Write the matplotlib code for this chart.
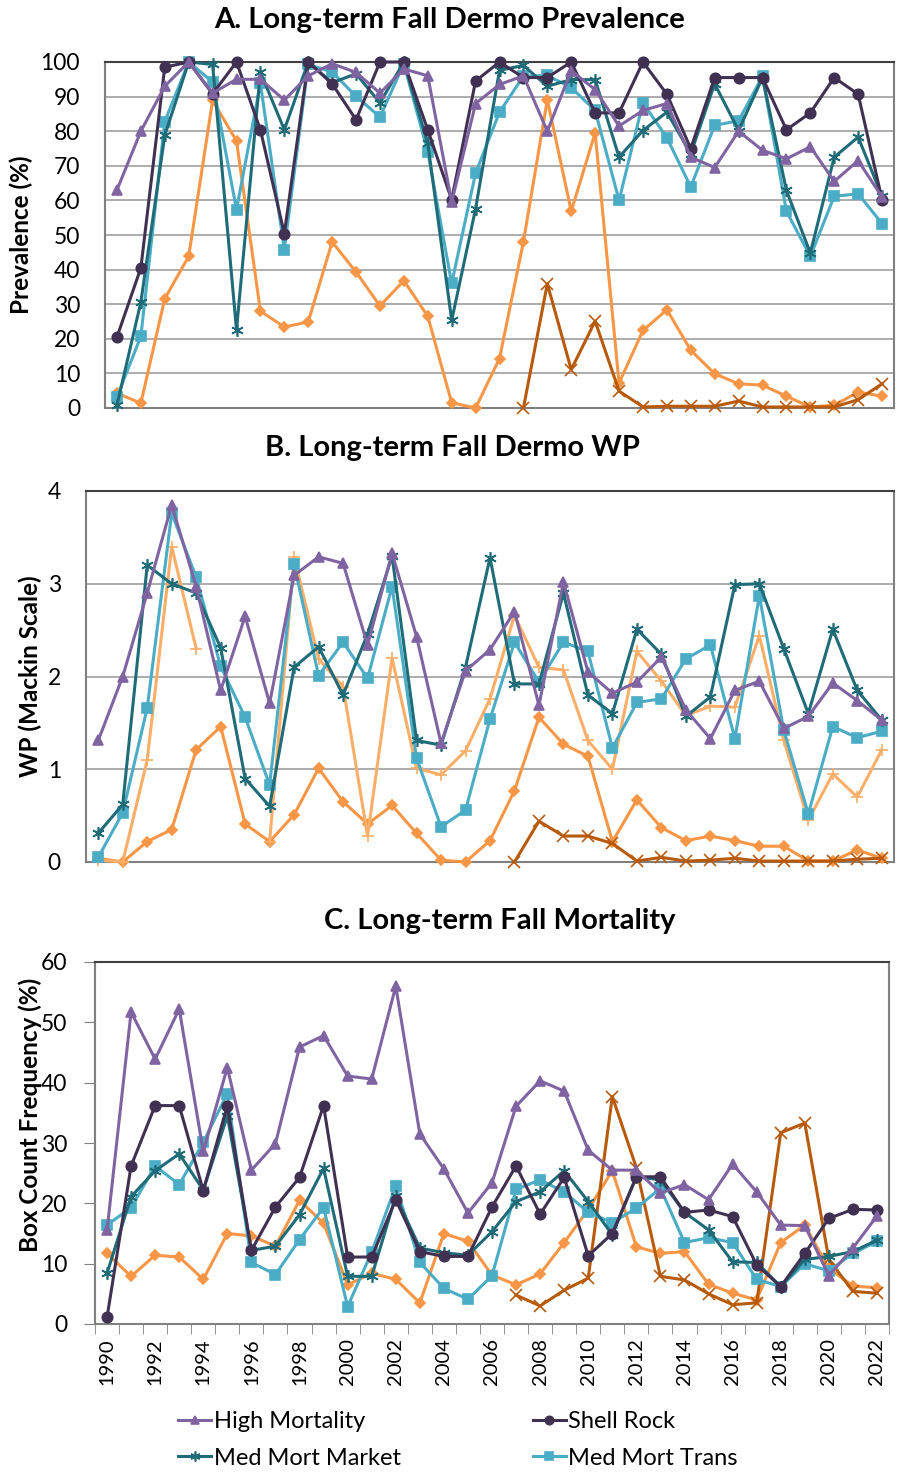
import numpy as np
import matplotlib
matplotlib.use("Agg")
import matplotlib.pyplot as plt

nan = np.nan

# years on the category axis
years = list(range(1990, 2023))
year_labels = [str(y) if y % 2 == 0 else "" for y in years]

# A. fall dermo prevalence (%)
hm_prev = [63, 80, 93, 100, 91, 95, 95, 89, 96, 99.5, 97, 91, 98, 96, 59.5, 88, 93.5, 96, 80, 97.5, 92,
           81.5, 86, 88, 72.5, 69.5, 80, 74.5, 72, 75.5, 65.5, 71.5, 61]
sr_prev = [20.5, 40.5, 98.5, 100, 90.8, 100, 80.4, 50.4, 100, 93.7, 83.3, 100, 100, 80.4, 60.2, 94.5, 100,
           95.5, 95.5, 100, 85.3, 85.3, 100, 90.7, 75, 95.5, 95.5, 95.5, 80.4, 85.3, 95.5, 90.7, 60.2]
mmm_prev = [0.8, 30.6, 78.8, 100, 99.3, 22.6, 97.1, 80.4, 100, 94, 96.6, 88.2, 100, 76.5, 25.3, 57.6, 97.6,
            99, 93, 94.9, 94.9, 72.5, 80.2, 85.5, 73.5, 93.7, 80.2, 95.5, 62.9, 44.8, 72.5, 78.3, 61.2]
mmt_prev = [3.2, 20.7, 82.8, 100, 94.2, 57.3, 93.8, 45.8, 99.3, 97.1, 90.1, 84.1, 99.5, 74, 36, 67.9, 85.5,
            95.9, 96.1, 92.6, 86, 60, 88.2, 78.1, 63.9, 81.7, 83, 95.9, 56.9, 43.8, 61.2, 61.9, 53.3]
lm_prev = [4.3, 1.4, 31.6, 43.8, 88.9, 77.2, 28, 23.4, 24.9, 48, 39.3, 29.5, 36.8, 26.5, 1.5, 0, 14.3,
           48, 89.1, 56.9, 79.5, 7.2, 22.4, 28.4, 16.7, 9.9, 7, 6.6, 3.4, 0.3, 0.8, 4.6, 3.4]
dk_prev = [nan] * 17 + [0, 35.9, 11.1, 25.1, 4.9, 0.3, 0.5, 0.5, 0.5, 2, 0.3, 0.3, 0.3, 0.3, 2.4, 7]

# B. fall dermo weighted prevalence (Mackin scale)
hm_wp = [1.31, 2.0, 2.9, 3.85, 2.97, 1.85, 2.65, 1.71, 3.09, 3.29, 3.22, 2.34, 3.33, 2.43, 1.28, 2.06, 2.29,
         2.70, 1.69, 3.02, 2.05, 1.82, 1.94, 2.21, 1.64, 1.33, 1.85, 1.95, 1.44, 1.57, 1.93, 1.74, 1.53]
mmm_wp = [0.31, 0.62, 3.2, 3.0, 2.9, 2.31, 0.9, 0.6, 2.1, 2.32, 1.8, 2.46, 3.3, 1.31, 1.26, 2.1, 3.28,
          1.92, 1.92, 2.9, 1.8, 1.6, 2.51, 2.24, 1.57, 1.78, 2.99, 3.0, 2.3, 1.6, 2.51, 1.85, 1.53]
mmt_wp = [0.05, 0.53, 1.66, 3.76, 3.07, 2.11, 1.56, 0.83, 3.21, 2.01, 2.37, 1.98, 2.97, 1.12, 0.38, 0.56, 1.54,
          2.37, 1.94, 2.37, 2.27, 1.23, 1.72, 1.76, 2.19, 2.34, 1.33, 2.87, 1.42, 0.52, 1.46, 1.34, 1.41]
lm_wp = [0.04, 0, 0.22, 0.35, 1.21, 1.46, 0.41, 0.22, 0.51, 1.01, 0.65, 0.41, 0.61, 0.31, 0.02, 0, 0.23,
         0.77, 1.56, 1.27, 1.14, 0.22, 0.67, 0.37, 0.23, 0.28, 0.23, 0.17, 0.17, 0.01, 0.01, 0.13, 0.04]
lt_wp = [0.02, 0, 1.1, 3.4, 2.3, nan, nan, 0.22, 3.29, 2.19, 1.89, 0.28, 2.2, 1.01, 0.94, 1.2, 1.76,
         2.66, 2.1, 2.07, 1.31, 1.0, 2.27, 1.95, 1.58, 1.68, 1.67, 2.44, 1.31, 0.45, 0.95, 0.7, 1.21]
dk_wp = [nan] * 17 + [0, 0.44, 0.28, 0.28, 0.2, 0.01, 0.05, 0.01, 0.02, 0.04, 0.01, 0.01, 0.01, 0.01, 0.03, 0.04]

# C. fall box count mortality (%)
hm_mort = [15.5, 51.7, 43.9, 52.2, 28.6, 42.5, 25.5, 29.9, 45.9, 47.8, 41.1, 40.6, 56, 31.5, 25.7, 18.4, 23.4,
           36.1, 40.3, 38.6, 28.8, 25.5, 25.5, 21.7, 23.1, 20.6, 26.5, 21.9, 16.4, 16.3, 8, 12.6, 17.9]
sr_mort = [1.1, 26.2, 36.2, 36.2, 22.1, 36.2, 12.2, 19.4, 24.3, 36.2, 11.1, 11.1, 20.6, 12, 11.2, 11.2, 19.4,
           26.2, 18.2, 24.3, 11.3, 15, 24.4, 24.4, 18.5, 18.9, 17.8, 9.8, 6.2, 11.7, 17.5, 19, 18.9]
mmm_mort = [8.4, 21.1, 25.4, 28.2, 22.2, 34.5, 12.2, 12.9, 18.1, 25.8, 7.9, 7.9, 21.2, 12.6, 11.8, 11.4, 15.3,
            20.3, 21.9, 25.4, 20.3, 14.8, 24.4, 23.9, 18.5, 15.6, 10.3, 10.2, 6.2, 10.7, 11.2, 12, 13.9]
mmt_mort = [16.4, 19.3, 26.2, 23.1, 30.1, 38.2, 10.2, 8.2, 14, 19.3, 2.9, 11.9, 22.9, 10.2, 5.9, 4.1, 8,
            22.3, 23.9, 21.9, 18.5, 16.8, 19.2, 22.5, 13.5, 14.3, 13.5, 7.4, 6.2, 10, 8.8, 11.7, 13.7]
lm_mort = [11.7, 7.9, 11.4, 11.1, 7.4, 15, 14.6, 12.9, 20.5, 16.7, 6.5, 8.4, 7.4, 3.5, 15, 13.7, 8.1,
           6.5, 8.3, 13.5, 19, 25.4, 12.8, 11.7, 12, 6.6, 5.1, 4, 13.5, 16.4, 9.2, 6.3, 6]
dk_mort = [nan] * 17 + [4.8, 3, 5.6, 7.6, 37.7, 25.9, 7.9, 7.3, 5, 3.2, 3.5, 31.7, 33.3, 10.7, 5.4, 5.1]

plt.rcParams['font.family'] = ['Lato', 'DejaVu Sans']

# series styles: (label, colour, marker, marker size)
styles = {
    "hm": ("High Mortality", "#8064A2", "^", 7.5),
    "sr": ("Shell Rock", "#403152", "o", 7.5),
    "mmm": ("Med Mort Market", "#1F6B78", (6, 2, 0), 9),
    "mmt": ("Med Mort Trans", "#4BACC6", "s", 7.5),
    "lm": ("Low Mortality", "#F79646", "D", 5.5),
    "lt": ("Low Mort Trans", "#FAAE68", "+", 9),
    "dk": ("Low Mort Market", "#B85A0C", "x", 8),
}

x = np.arange(len(years))


def draw(ax, key, vals):
    label, col, mk, ms = styles[key]
    line, = ax.plot(x, vals, color=col, lw=2.2, marker=mk, ms=ms, mec=col, mfc=col, mew=1.2,
                    label=label, clip_on=False, zorder=3)
    return line


fig = plt.figure(figsize=(8.99, 14.73), dpi=100)

TICK = 16.5
YLAB = 17.5
TITLE = 21

# ---- panel A
axA = fig.add_axes([105 / 899, 1 - 408 / 1473, 789 / 899, 346 / 1473])
for k, v in [("lm", lm_prev), ("dk", dk_prev), ("mmt", mmt_prev), ("mmm", mmm_prev), ("sr", sr_prev), ("hm", hm_prev)]:
    draw(axA, k, v)
axA.set_ylim(0, 100)
axA.set_yticks(range(0, 101, 10))
axA.set_xticks([])
axA.yaxis.grid(True, color="#A6A6A6", lw=1.3)
axA.set_axisbelow(True)
axA.set_ylabel("Prevalence (%)", fontsize=YLAB, fontweight="bold")
axA.yaxis.set_label_coords(-0.0913, 0.5)
axA.tick_params(axis="y", length=0, labelsize=TICK, pad=18)

# ---- panel B
axB = fig.add_axes([86 / 899, 1 - 862 / 1473, 808 / 899, 371 / 1473])
for k, v in [("lm", lm_wp), ("lt", lt_wp), ("dk", dk_wp), ("mmt", mmt_wp), ("mmm", mmm_wp), ("hm", hm_wp)]:
    draw(axB, k, v)
axB.set_ylim(0, 4)
axB.set_yticks(range(0, 5))
axB.set_xticks([])
axB.yaxis.grid(True, color="#A6A6A6", lw=1.3)
axB.set_axisbelow(True)
axB.set_ylabel("WP (Mackin Scale)", fontsize=YLAB, fontweight="bold")
axB.yaxis.set_label_coords(-0.0545, 0.5)
axB.tick_params(axis="y", length=0, labelsize=TICK, pad=18)

# ---- panel C
axC = fig.add_axes([95 / 899, 1 - 1324 / 1473, 794 / 899, 362 / 1473])
for k, v in [("lm", lm_mort), ("dk", dk_mort), ("mmt", mmt_mort), ("mmm", mmm_mort), ("sr", sr_mort), ("hm", hm_mort)]:
    draw(axC, k, v)
axC.set_ylim(0, 60)
axC.set_yticks(range(0, 61, 10))
axC.set_xticks(x[::2])
axC.set_xticklabels([l for l in year_labels if l], rotation=90)
axC.set_xticks(np.arange(-0.5, len(years)), minor=True)
axC.tick_params(axis="x", which="major", length=0, labelsize=14.5, pad=10)
axC.tick_params(axis="x", which="minor", length=7, color="#808080", direction="out")
axC.tick_params(axis="y", length=8, color="#808080", labelsize=TICK, pad=12)
axC.set_ylabel("Box Count Frequency (%)", fontsize=YLAB, fontweight="bold")
axC.yaxis.set_label_coords(-0.0668, 0.577)

for ax in (axA, axB, axC):
    ax.set_xlim(-0.5, len(years) - 0.5)
    for s in ax.spines.values():
        s.set_color("#808080")
        s.set_linewidth(1.5)
    ax.spines["top"].set_color("#404040")

# titles
fig.text(450 / 899, 1 - 20 / 1473, "A. Long-term Fall Dermo Prevalence", ha="center", va="center",
         fontsize=TITLE, fontweight="bold")
fig.text(452 / 899, 1 - 448 / 1473, "B. Long-term Fall Dermo WP", ha="center", va="center",
         fontsize=TITLE, fontweight="bold")
fig.text(500 / 899, 1 - 921 / 1473, "C. Long-term Fall Mortality", ha="center", va="center",
         fontsize=TITLE, fontweight="bold")

# legend (only the first four entries are visible), filled column by column
h = {l.get_label(): l for l in axC.get_lines()}
order = ["High Mortality", "Med Mort Market", "Shell Rock", "Med Mort Trans"]
fig.legend([h[o] for o in order], order, ncol=2, loc="upper left",
           bbox_to_anchor=(157 / 899, 1 - 1390 / 1473), frameon=False, fontsize=17,
           handlelength=1.4, handletextpad=0.1, columnspacing=5.6, labelspacing=0.65,
           markerscale=0.8)

fig.savefig("out.png", dpi=100)
